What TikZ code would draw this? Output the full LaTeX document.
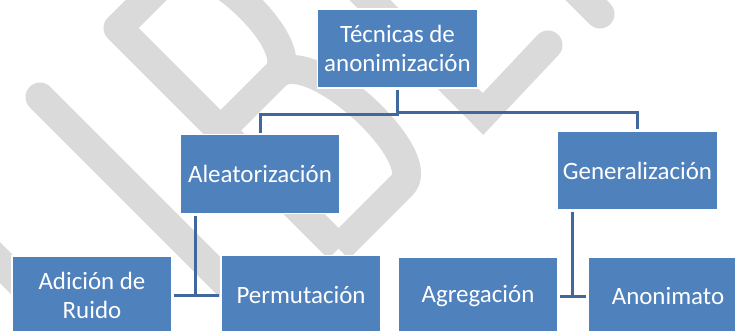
\documentclass[tikz,border=0pt]{standalone}
\usepackage{fontspec}
\setmainfont{Carlito}

\definecolor{boxblue}{RGB}{79,129,189}
\definecolor{linkblue}{RGB}{64,104,156}
\definecolor{markgray}{RGB}{218,218,218}

\tikzset{
  smbox/.style={rectangle, fill=boxblue, draw=white, line width=0.9pt, text=white,
    align=center, minimum width=120pt, minimum height=59.25pt, inner sep=0pt, outer sep=0pt,
    font={\fontsize{18.7}{21.75}\selectfont}},
  link/.style={draw=linkblue, line width=2.25pt, shorten <=1.5pt, shorten >=1.5pt},
  wmstroke/.style={draw=markgray, line width=21.75pt}
}

\begin{document}
\begin{tikzpicture}[x=0.75pt,y=0.75pt,yscale=-1,xscale=1]
        \useasboundingbox (0,0) rectangle (735,330);
        \clip (0,0) rectangle (735,330);

        %Watermark strokes
        \draw [wmstroke, line cap=round] (40,97) -- (290,347) ;
        \draw [wmstroke, line cap=round] (-40,222.5) -- (80,342.5) ;
        \draw [wmstroke, line cap=round, line join=miter] (360,-10) -- (483,114) -- (548,45) ;
        \draw [wmstroke, line cap=round] (566,-20) -- (600,14) ;
        %Watermark letter B
        \begin{scope}[shift={(118,28)}, rotate=45]
          \draw [wmstroke, line join=round] (312,0) -- (0,0) -- (0,-75) .. controls (0,-115) and (145,-120) .. (145,-80) -- (145,0) ;
          \draw [wmstroke, line join=round] (145,-80) .. controls (150,-125) and (312,-130) .. (312,-90) -- (312,0) ;
        \end{scope}

        % Text Node
        \node [smbox] (tecnicas) at (397.5,48.5) {Técnicas de\\anonimización};
        % Text Node
        \node [smbox] (alea) at (260,174) {Aleatorización};
        % Text Node
        \node [smbox] (gene) at (637.5,170.5) {Generalización};
        % Text Node
        \node [smbox] (ruido) at (92,295.5) {Adición de\\Ruido};
        % Text Node
        \node [smbox] (perm) at (301,295) {Permutación};
        % Text Node
        \node [smbox] (agreg) at (478,296.5) {Agregación};
        % Text Node
        \node [smbox] (anon) at (668,296.5) {Anonimato};

        %Connectors
        \draw [link] (tecnicas.south) -- ++(0,26) -| (alea.north) ;
        \draw [link] (tecnicas.south) -- ++(0,24) -| (gene.north) ;
        \draw [link] ([xshift=11.25pt]alea.south west) |- (ruido.east) ;
        \draw [link] ([xshift=11.25pt]alea.south west) |- (perm.west) ;
        \draw [link] ([xshift=11.25pt]gene.south west) |- (agreg.east) ;
        \draw [link] ([xshift=11.25pt]gene.south west) |- (anon.west) ;
\end{tikzpicture}
\end{document}
